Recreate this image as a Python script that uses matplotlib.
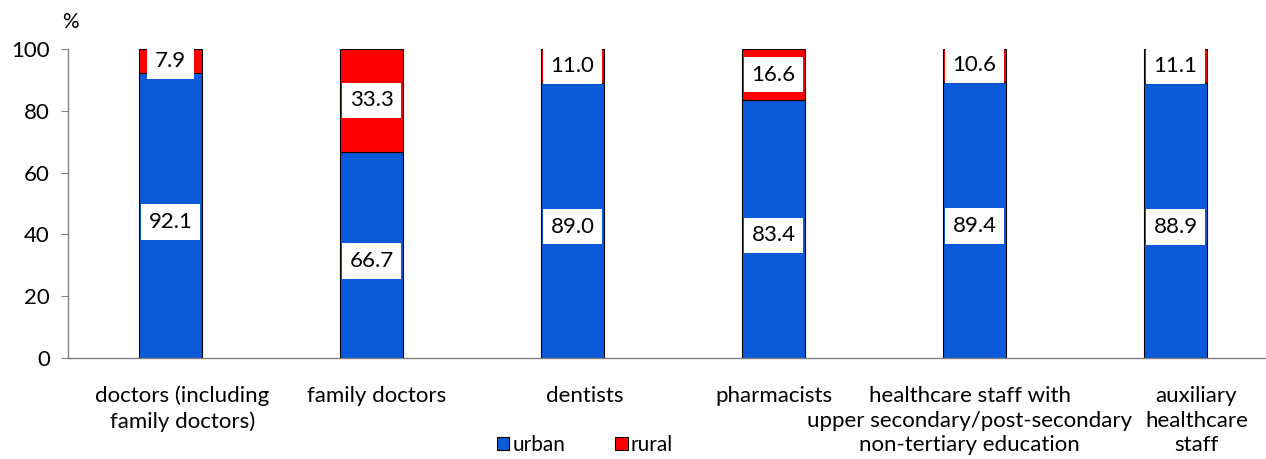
import matplotlib.pyplot as plt
import matplotlib.transforms as mtransforms
import numpy as np

plt.rcParams['font.family'] = ['Lato', 'DejaVu Sans']

# data
categories = ['doctors (including\nfamily doctors)', 'family doctors', 'dentists',
              'pharmacists',
              'healthcare staff with\nupper secondary/post-secondary\nnon-tertiary education',
              'auxiliary\nhealthcare\nstaff']
urban = [92.1, 66.7, 89.0, 83.4, 89.4, 88.9]
rural = [7.9, 33.3, 11.0, 16.6, 10.6, 11.1]

blue = '#0B5AD9'
red = '#FF0000'

fig = plt.figure(figsize=(12.66, 4.59), dpi=100)
ax = fig.add_axes([68 / 1266, 101 / 459, 1 - 68 / 1266, 309 / 459])

x = np.arange(len(categories))
w = 0.31
ax.bar(x, urban, w, color=blue, edgecolor='black', linewidth=0.8, label='urban')
ax.bar(x, rural, w, bottom=urban, color=red, edgecolor='black', linewidth=0.8, label='rural')

box = dict(boxstyle='square,pad=0.35', facecolor='white', edgecolor='none')
for xi, u, r in zip(x, urban, rural):
    ax.text(xi, u / 2 - 2, f'{u:.1f}', ha='center', va='center', fontsize=16,
            bbox=box, clip_on=True)
    ax.text(xi, u + r / 2, f'{r:.1f}', ha='center', va='center', fontsize=16,
            bbox=box, clip_on=True)

ax.set_xlim(-0.51, 5.45)
ax.set_ylim(0, 100)
ax.set_yticks(range(0, 101, 20))
ax.set_xticks(x)
ax.set_xticklabels(categories, fontsize=16, linespacing=1.3)
ax.tick_params(axis='x', length=0, pad=20)
ax.tick_params(axis='y', labelsize=16, length=5, color='#808080', pad=8)

# excel shifts the wrapped category labels a little to the right
shifts = [12, 5, 12, 0, -5, 21]
for lab, dx in zip(ax.get_xticklabels(), shifts):
    lab.set_transform(lab.get_transform() +
                      mtransforms.ScaledTranslation(dx / 100, 0, fig.dpi_scale_trans))

for s in ['top', 'right']:
    ax.spines[s].set_visible(False)
for s in ['left', 'bottom']:
    ax.spines[s].set_color('#808080')
    ax.spines[s].set_linewidth(1)

fig.text(70 / 1266, 1 - 22 / 459, '%', fontsize=15, ha='center', va='center')

fig.legend(loc='lower center', bbox_to_anchor=(0.462, -0.014), ncol=2, frameon=False,
           fontsize=15, handlelength=0.6, handleheight=0.6, handletextpad=0.15,
           columnspacing=2.4, borderpad=0)

fig.savefig('out.png', dpi=100)
